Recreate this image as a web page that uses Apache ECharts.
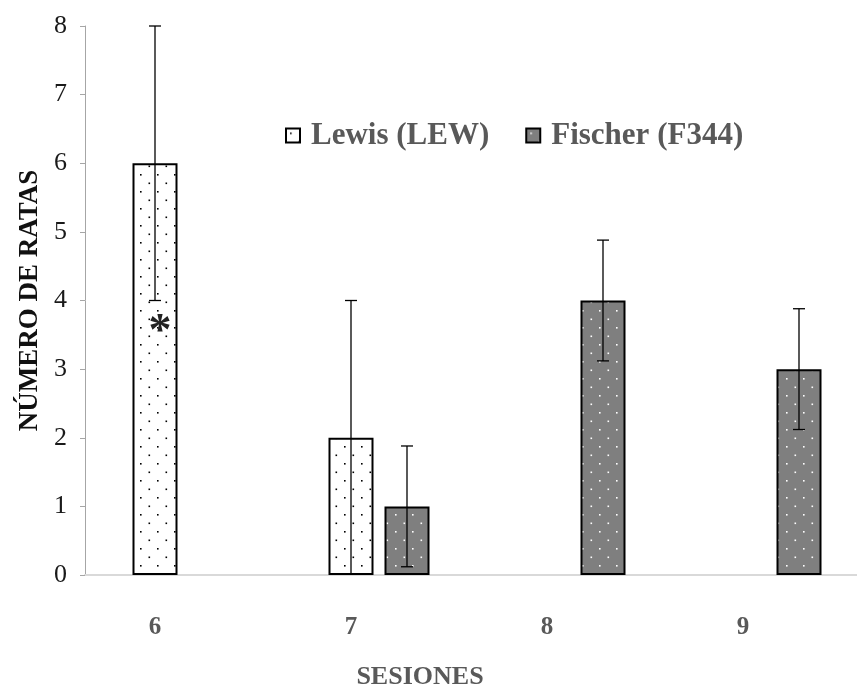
<!DOCTYPE html>
<html><head><meta charset="utf-8">
<script src="https://cdn.jsdelivr.net/npm/echarts@6/dist/echarts.min.js"></script>
<style>html,body{margin:0;padding:0;background:#fff}#c{width:857px;height:688px}</style>
</head><body><div id="c"></div>
<script>
const categories = ['6', '7', '8', '9'];
const lewisValues = [6, 2, 0, 0];
const lewisErrors = [2, 2, 0, 0];
const fischerValues = [0, 1, 4, 3];
const fischerErrors = [0, 0.88, 0.88, 0.88];
const yTicks = [0, 1, 2, 3, 4, 5, 6, 7, 8];
const seriesNames = ['Lewis (LEW)', 'Fischer (F344)'];

function dots(bg, fg, r) {
  const c = document.createElement('canvas');
  c.width = 17; c.height = 17;
  const g = c.getContext('2d');
  g.fillStyle = bg; g.fillRect(0, 0, 17, 17);
  g.fillStyle = fg;
  g.fillRect(4, 4, r, r);
  g.fillRect(12.5, 12.5, r, r);
  return c;
}
const lewisFill = { image: dots('#ffffff', '#000000', 1.6), repeat: 'repeat' };
const fischerFill = { image: dots('#7f7f7f', '#ffffff', 1.6), repeat: 'repeat' };

const barW = 45, gap = 11, off = (barW + gap) / 2;

function errData(vals, errs) {
  const out = [];
  vals.forEach((v, i) => { if (v > 0) out.push([i, v - errs[i], v + errs[i]]); });
  return out;
}
function errRender(dx) {
  return function (params, api) {
    const lo = api.coord([api.value(0), api.value(1)]);
    const hi = api.coord([api.value(0), api.value(2)]);
    const x = lo[0] + dx, cw = 6;
    const st = { stroke: '#000', lineWidth: 1.3 };
    const kids = [
      { type: 'line', shape: { x1: x, y1: lo[1], x2: x, y2: hi[1] }, style: st },
      { type: 'line', shape: { x1: x - cw, y1: hi[1], x2: x + cw, y2: hi[1] }, style: st }
    ];
    if (api.value(1) > 0) kids.push({ type: 'line', shape: { x1: x - cw, y1: lo[1], x2: x + cw, y2: lo[1] }, style: st });
    return { type: 'group', children: kids };
  };
}

const chart = echarts.init(document.getElementById('c'), null, { renderer: 'canvas' });
chart.setOption({
  animation: false,
  backgroundColor: '#fff',
  grid: { left: 85, width: 784, top: 26, bottom: 113, containLabel: false, outerBoundsMode: 'none' },
  legend: {
    data: seriesNames, left: 280, top: 115, itemWidth: 14, itemHeight: 14, itemGap: 36, icon: 'rect',
    textStyle: { fontFamily: 'Liberation Serif', fontWeight: 'bold', fontSize: 31, color: '#595959', padding: [0, 0, 0, 6] }
  },
  xAxis: {
    type: 'category', data: categories,
    axisLine: { lineStyle: { color: '#d9d9d9', width: 2 } },
    axisTick: { show: false },
    axisLabel: { fontFamily: 'Liberation Serif', fontWeight: 'bold', fontSize: 25, color: '#595959', margin: 40, padding: [0, 56, 0, 0] },
    name: 'SESIONES', nameLocation: 'middle', nameGap: 89,
    nameTextStyle: { fontFamily: 'Liberation Serif', fontWeight: 'bold', fontSize: 26, color: '#595959', padding: [0, 114, 0, 0] }
  },
  yAxis: {
    type: 'value', min: yTicks[0], max: yTicks[yTicks.length - 1], interval: 1,
    splitLine: { show: false },
    axisLine: { show: true, lineStyle: { color: '#a6a6a6', width: 1 } },
    axisTick: { show: true, length: 5, lineStyle: { color: '#a6a6a6' } },
    axisLabel: { fontFamily: 'Liberation Serif', fontSize: 26, color: '#1a1a1a', margin: 18 },
    name: 'NÚMERO DE RATAS', nameLocation: 'middle', nameGap: 40,
    nameTextStyle: { fontFamily: 'Liberation Serif', fontWeight: 'bold', fontSize: 27, color: '#111' }
  },
  series: [
    { name: seriesNames[0], type: 'bar', barWidth: barW, barGap: (gap / barW * 100) + '%',
      data: lewisValues.map(v => v > 0 ? v : null),
      itemStyle: { color: lewisFill, borderColor: '#000', borderWidth: 2 },
      markPoint: { symbol: 'circle', symbolSize: 0, data: [{ coord: ['6', 3.55] }],
        label: { show: true, formatter: '*', fontFamily: 'Liberation Serif', fontWeight: 'bold', fontSize: 46, color: '#222', offset: [5, 2] } }
    },
    { name: seriesNames[1], type: 'bar', barWidth: barW,
      data: fischerValues.map(v => v > 0 ? v : null),
      itemStyle: { color: fischerFill, borderColor: '#000', borderWidth: 2 }
    },
    { type: 'custom', renderItem: errRender(-off), data: errData(lewisValues, lewisErrors), encode: { x: 0, y: [1, 2] }, z: 10 },
    { type: 'custom', renderItem: errRender(off), data: errData(fischerValues, fischerErrors), encode: { x: 0, y: [1, 2] }, z: 10 }
  ]
});
</script></body></html>
